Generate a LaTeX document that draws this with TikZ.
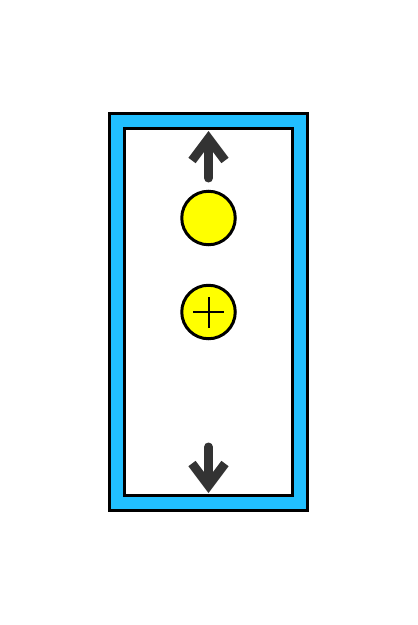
\documentclass[tikz,border=0pt]{standalone}
\usepackage{tikz}
\usepackage{xcolor}
\usetikzlibrary{positioning,arrows.meta,calc}
\definecolor{pcblue}{RGB}{33,191,255}
\definecolor{pcdark}{RGB}{51,51,51}
\definecolor{pcyellow}{RGB}{255,255,0}
\tikzset{
  wall/.style={draw=black, line width=0.06cm, fill=pcblue},
  cavity/.style={draw=black, line width=0.06cm, fill=white},
  charge/.style={circle, draw=black, line width=0.06cm, fill=pcyellow, minimum size=1.07cm, inner sep=0pt},
  push/.style={-{Straight Barb[length=4.4mm, width=6.6mm]}, line width=0.18cm, pcdark, line cap=round},
  cross/.style={line width=0.04cm, black}
}

\begin{document}
\begin{tikzpicture}[x=0.02cm, y=-0.02cm]
    \useasboundingbox (0,0) rectangle (417,625);
    \draw[wall] (109.5,113.5) rectangle (307.5,510);
    \draw[cavity] (124.5,128.5) rectangle (292.5,495);
    \node[charge] (ball) at (208.5,218) {};
    \node[charge] (plus) at (208.5,312) {};
    \draw[cross] ([xshift=-0.31cm]plus.center) -- ([xshift=0.31cm]plus.center);
    \draw[cross] ([yshift=-0.31cm]plus.center) -- ([yshift=0.31cm]plus.center);
    \coordinate (uptail) at (208.5,178);
    \coordinate (uphead) at (208.5,131);
    \coordinate (downtail) at (208.5,447);
    \coordinate (downhead) at (208.5,493);
    \draw[push] (uptail) -- (uphead);
    \draw[push] (downtail) -- (downhead);
  \end{tikzpicture}
\end{document}
